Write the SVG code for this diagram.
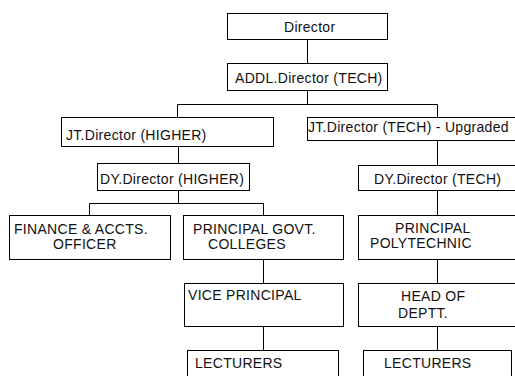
<svg xmlns="http://www.w3.org/2000/svg" width="515" height="376" viewBox="0 0 515 376">
<style>
rect{fill:#fff;stroke:#000;stroke-width:1}
.c line{stroke:#000;stroke-width:1}
text{font-family:"Liberation Sans",Arial,sans-serif;font-size:14px;fill:#111;letter-spacing:0.3px}
</style>
<rect x="0" y="0" width="515" height="376" style="stroke:none"/>
<g class="c" id="connectors">
<line x1="307.5" y1="39.5" x2="307.5" y2="63.5"/>
<line x1="307.5" y1="90.5" x2="307.5" y2="104.5"/>
<line x1="177.5" y1="104.5" x2="437.5" y2="104.5"/>
<line x1="177.5" y1="104.5" x2="177.5" y2="117.5"/>
<line x1="437.5" y1="104.5" x2="437.5" y2="117.5"/>
<line x1="178.5" y1="146.5" x2="178.5" y2="163.5"/>
<line x1="178.5" y1="190.5" x2="178.5" y2="203.5"/>
<line x1="89.5" y1="203.5" x2="263.5" y2="203.5"/>
<line x1="89.5" y1="203.5" x2="89.5" y2="215.5"/>
<line x1="263.5" y1="203.5" x2="263.5" y2="215.5"/>
<line x1="263.5" y1="259.5" x2="263.5" y2="283.5"/>
<line x1="263.5" y1="326.5" x2="263.5" y2="350.5"/>
<line x1="437.5" y1="140.5" x2="437.5" y2="165.5"/>
<line x1="437.5" y1="190.5" x2="437.5" y2="215.5"/>
<line x1="437.5" y1="259.5" x2="437.5" y2="283.5"/>
<line x1="437.5" y1="326.5" x2="437.5" y2="350.5"/>
</g>
<g id="director"><rect x="227.5" y="13.5" width="160" height="26"/><text x="284" y="32">Director</text></g>
<g id="addl"><rect x="227.5" y="63.5" width="160" height="27"/><text x="235" y="83">ADDL.Director (TECH)</text></g>
<g id="jt-higher"><rect x="61.5" y="117.5" width="212" height="29"/><text x="66" y="140">JT.Director (HIGHER)</text></g>
<g id="jt-tech"><rect x="307.5" y="117.5" width="220" height="23"/><text x="308" y="132">JT.Director (TECH) - Upgraded</text></g>
<g id="dy-higher"><rect x="97.5" y="163.5" width="152" height="27"/><text x="100" y="184">DY.Director (HIGHER)</text></g>
<g id="dy-tech"><rect x="358.5" y="165.5" width="170" height="25"/><text x="374" y="184">DY.Director (TECH)</text></g>
<g id="finance"><rect x="9.5" y="215.5" width="161" height="44"/><text x="14" y="234">FINANCE &amp; ACCTS.</text><text x="53" y="249">OFFICER</text></g>
<g id="principal-govt"><rect x="183.5" y="215.5" width="160" height="44"/><text x="193" y="234">PRINCIPAL GOVT.</text><text x="208" y="249">COLLEGES</text></g>
<g id="principal-poly"><rect x="358.5" y="215.5" width="170" height="44"/><text x="395" y="233">PRINCIPAL</text><text x="370" y="248">POLYTECHNIC</text></g>
<g id="vice-principal"><rect x="184.5" y="283.5" width="159" height="43"/><text x="188" y="300">VICE PRINCIPAL</text></g>
<g id="head-of-deptt"><rect x="358.5" y="283.5" width="170" height="43"/><text x="401" y="301">HEAD OF</text><text x="398" y="318">DEPTT.</text></g>
<g id="lecturers-1"><rect x="187.5" y="350.5" width="151" height="40"/><text x="195" y="368">LECTURERS</text></g>
<g id="lecturers-2"><rect x="363.5" y="350.5" width="148" height="40"/><text x="384" y="368">LECTURERS</text></g>
</svg>
